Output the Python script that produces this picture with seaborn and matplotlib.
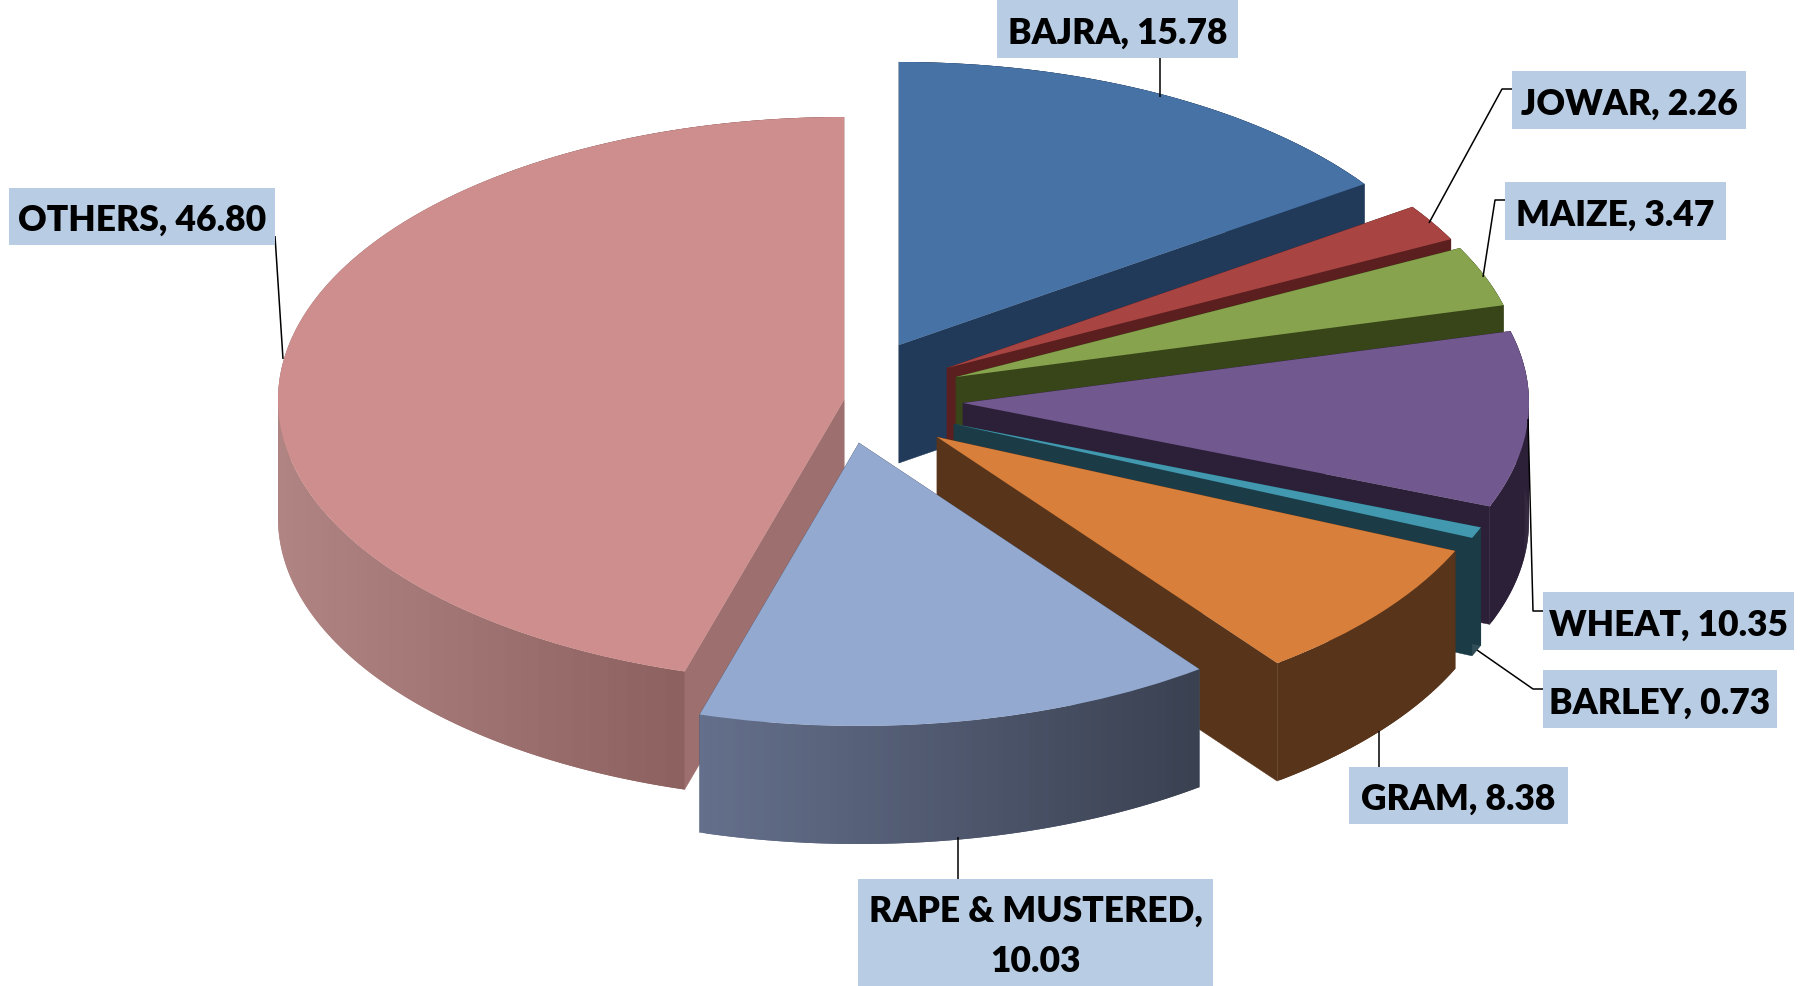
import numpy as np
import matplotlib
matplotlib.use("Agg")
import matplotlib.pyplot as plt
from matplotlib.collections import PolyCollection
from matplotlib.patches import Rectangle
import seaborn as sns

# Printed labels and values
crops = ["BAJRA", "JOWAR", "MAIZE", "WHEAT", "BARLEY", "GRAM", "RAPE & MUSTERED", "OTHERS"]
printed_values = ["15.78", "2.26", "3.47", "10.35", "0.73", "8.38", "10.03", "46.80"]
drawn_shares = [15.36, 2.11, 3.44, 10.03, 0.64, 8.14, 14.80, 45.44]

top_colors = ["#4672a5", "#a84442", "#87a34d", "#71588f", "#4198af", "#d77f3b", "#93a9cf", "#ce8e8d"]
wall_colors = ["#223a5a", "#5a1f1e", "#384519", "#2c2038", "#1b3c47", "#57341a", "#4d586e", "#9d6f6e"]

W, H = 1813, 986
RX, RY, DEPTH = 566.0, 283.0, 118.0
OX, OY = 900.0, 400.0


def pt(x, y):
    """Reference pixel -> axes data (pie radius = 1)."""
    return (x - OX) / RX, (OY - y) / RY


sns.set_theme(style="white")
plt.rcParams["font.family"] = ["Lato", "DejaVu Sans"]
fig = plt.figure(figsize=(W / 100, H / 100), dpi=100, facecolor="white")
ax = fig.add_axes([0, 0, 1, 1])

wedges, _ = ax.pie(drawn_shares, colors=top_colors, startangle=90, counterclock=False,
                   radius=1, wedgeprops={"linewidth": 0})
ax.set_aspect("auto")
ax.set_xlim(pt(0, 0)[0], pt(W, 0)[0])
ax.set_ylim(pt(0, H)[1], pt(0, 0)[1])
ax.axis("off")

# Where each exploded slice's apex lands
apexes = [(899, 345), (947, 368), (956, 377), (963, 403), (954, 424), (937, 437), (859, 443), (844, 400)]
paint_order = [0, 7, 1, 2, 3, 4, 5, 6]
gradients = {7: ("#b08482", "#8a5f5d"), 6: ("#646f8b", "#394050")}
d = DEPTH / RY

for rank, i in enumerate(paint_order):
    w = wedges[i]
    c = pt(*apexes[i])
    w.set_center(c)
    w.set_zorder(10 + 2 * rank + 1)
    t = np.radians(np.linspace(w.theta1, w.theta2, 241))
    xs, ys = c[0] + np.cos(t), c[1] + np.sin(t)
    z = 10 + 2 * rank
    # radial walls
    radial = [[c, (xs[k], ys[k]), (xs[k], ys[k] - d), (c[0], c[1] - d)] for k in (0, -1)]
    ax.add_collection(PolyCollection(radial, facecolors=wall_colors[i], edgecolors=wall_colors[i],
                                     linewidths=0.3, zorder=z))
    # outer wall: strips that overlap the next one so no seams appear
    step = 3
    starts = np.arange(0, len(t) - 1, step)
    quads = []
    for k in starts:
        e = min(k + 2 * step + 1, len(t))
        quads.append(np.column_stack([np.r_[xs[k:e], xs[k:e][::-1]], np.r_[ys[k:e], ys[k:e][::-1] - d]]))
    if i in gradients:
        n = 256
        ramp = sns.blend_palette(gradients[i], n)
        visible = np.sin(t) < 0
        lo, hi = xs[visible].min(), xs[visible].max()
        idx = np.clip(((xs[starts] - lo) / (hi - lo) * (n - 1)).astype(int), 0, n - 1)
        cols = [ramp[j] for j in idx]
    else:
        cols = [wall_colors[i]] * len(quads)
    ax.add_collection(PolyCollection(quads, facecolors=cols, edgecolors="none", linewidths=0, zorder=z))

# Label boxes: (left, top, right, bottom) in reference pixels
boxes = [(997, 0, 1238, 58), (1512, 71, 1746, 129), (1505, 182, 1726, 240), (1543, 592, 1794, 650),
         (1543, 670, 1777, 728), (1349, 767, 1568, 824), (858, 879, 1213, 986), (9, 188, 275, 245)]
leaders = [
    [(1160, 58), (1160, 97)],
    [(1512, 89), (1502, 89), (1429, 223)],
    [(1505, 200), (1495, 200), (1483, 277)],
    [(1543, 611), (1533, 611), (1528, 419)],
    [(1543, 689), (1533, 689), (1477, 650)],
    [(1379, 767), (1379, 731)],
    [(958, 879), (958, 837)],
    [(275, 236), (283, 359)],
]

for crop, val, box, lead in zip(crops, printed_values, boxes, leaders):
    x0, y0 = pt(box[0], box[3])
    x1, y1 = pt(box[2], box[1])
    ax.add_patch(Rectangle((x0, y0), x1 - x0, y1 - y0, facecolor="#b8cce4", edgecolor="none", zorder=40))
    lx, ly = zip(*[pt(*p) for p in lead])
    ax.plot(lx, ly, color="black", lw=1.1, zorder=39, solid_capstyle="butt")
    label = f"{crop},\n{val}" if len(crop) > 10 else f"{crop}, {val}"
    ax.text((x0 + x1) / 2, (y0 + y1) / 2 - 4 / RY, label, ha="center", va="center", ma="center",
            fontsize=25.5, fontweight="heavy", color="black", linespacing=1.62, zorder=41)

fig.savefig("out.png", dpi=100, facecolor="white")
